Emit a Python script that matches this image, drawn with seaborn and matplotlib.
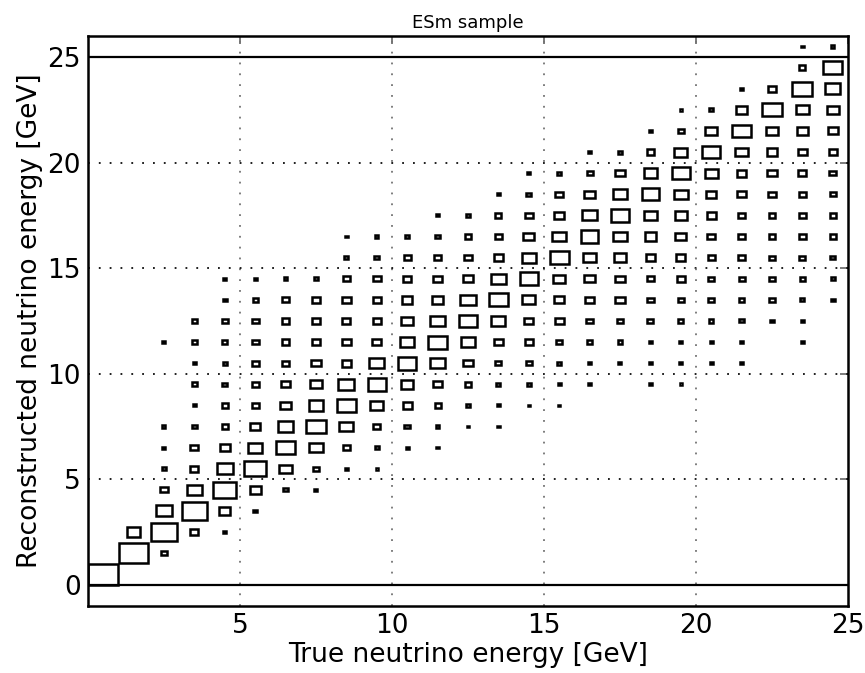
"""
ESm sample: true vs reconstructed neutrino energy, drawn as a ROOT-style box histogram.
"""
import matplotlib
matplotlib.use("Agg")
import matplotlib.pyplot as plt
import numpy as np
import pandas as pd
import seaborn as sns

# true energy bins (GeV), 1 GeV wide
true_bins = list(range(25))
# index of first reconstructed-energy bin that has content, per true bin
first_reco_bin = [0, 1, 1, 2, 2, 3, 4, 4, 5, 5, 6, 6, 7, 7, 8, 8, 9, 10, 9, 9, 10, 10, 12, 11, 13]
# relative box size (side of box / bin width) in consecutive reco bins
box_size = [
    [1.0],
    [0.93, 0.44],
    [0.19, 0.86, 0.52, 0.25, 0.13, 0.1, 0.1, 0, 0, 0, 0.1],
    [0.27, 0.82, 0.49, 0.27, 0.27, 0.16, 0.1, 0.17, 0.1, 0.15, 0.16],
    [0.1, 0.35, 0.75, 0.52, 0.33, 0.2, 0.2, 0.16, 0.14, 0.15, 0.18, 0.12, 0.1],
    [0.12, 0.37, 0.71, 0.48, 0.35, 0.24, 0.24, 0.22, 0.22, 0.22, 0.16, 0.1],
    [0.15, 0.4, 0.62, 0.52, 0.35, 0.27, 0.25, 0.25, 0.25, 0.25, 0.12],
    [0.1, 0.2, 0.43, 0.66, 0.49, 0.38, 0.3, 0.27, 0.25, 0.27, 0.16],
    [0.1, 0.22, 0.46, 0.62, 0.52, 0.32, 0.3, 0.27, 0.3, 0.25, 0.14, 0.08],
    [0.08, 0.14, 0.22, 0.44, 0.6, 0.49, 0.3, 0.27, 0.27, 0.25, 0.16, 0.1],
    [0.1, 0.18, 0.3, 0.4, 0.6, 0.46, 0.38, 0.35, 0.27, 0.22, 0.13],
    [0.08, 0.12, 0.2, 0.27, 0.47, 0.62, 0.47, 0.35, 0.3, 0.25, 0.16, 0.1],
    [0.08, 0.15, 0.22, 0.3, 0.47, 0.58, 0.5, 0.35, 0.25, 0.2, 0.13],
    [0.08, 0.1, 0.14, 0.2, 0.3, 0.46, 0.61, 0.49, 0.3, 0.25, 0.2, 0.1],
    [0.08, 0.13, 0.18, 0.25, 0.3, 0.43, 0.6, 0.47, 0.35, 0.27, 0.15, 0.1],
    [0.08, 0.1, 0.15, 0.2, 0.3, 0.33, 0.4, 0.62, 0.47, 0.35, 0.25, 0.13],
    [0.1, 0.1, 0.18, 0.22, 0.27, 0.35, 0.43, 0.58, 0.47, 0.35, 0.2, 0.1],
    [0.1, 0.16, 0.22, 0.3, 0.3, 0.4, 0.47, 0.6, 0.47, 0.3, 0.14],
    [0.08, 0.1, 0.1, 0.2, 0.22, 0.25, 0.3, 0.38, 0.43, 0.58, 0.45, 0.25, 0.1],
    [0.08, 0.1, 0.1, 0.18, 0.2, 0.27, 0.3, 0.35, 0.4, 0.45, 0.58, 0.43, 0.2, 0.08],
    [0.1, 0.1, 0.15, 0.2, 0.2, 0.22, 0.27, 0.3, 0.35, 0.42, 0.6, 0.38, 0.14],
    [0.1, 0.1, 0.14, 0.18, 0.2, 0.22, 0.22, 0.25, 0.27, 0.32, 0.42, 0.61, 0.35, 0.1],
    [0.13, 0.18, 0.2, 0.2, 0.2, 0.22, 0.25, 0.3, 0.35, 0.42, 0.63, 0.27],
    [0.08, 0.1, 0.14, 0.18, 0.2, 0.22, 0.22, 0.25, 0.27, 0.3, 0.38, 0.42, 0.66, 0.2, 0.08],
    [0.12, 0.14, 0.17, 0.2, 0.2, 0.2, 0.22, 0.27, 0.33, 0.4, 0.5, 0.62, 0.1],
]

x_ticks = [5, 10, 15, 20, 25]
y_ticks = [0, 5, 10, 15, 20, 25]


if __name__ == "__main__":

    rows = []
    for i, start, sizes in zip(true_bins, first_reco_bin, box_size):
        for k, s in enumerate(sizes):
            if s > 0:
                rows.append(dict(true_e=i + 0.5, reco_e=start + k + 0.5, size=s))
    df = pd.DataFrame(rows)

    sns.set_style("white")
    plt.rcParams["font.family"] = ["DejaVu Sans"]
    plt.rcParams["text.color"] = "black"
    plt.rcParams["axes.labelcolor"] = "black"
    plt.rcParams["xtick.color"] = "black"
    plt.rcParams["ytick.color"] = "black"

    fig = plt.figure(figsize=(8.65, 6.73), dpi=100)
    ax = fig.add_axes([0.1017, 0.0996, 0.8786, 0.8470])

    # grid behind the boxes
    for v in [5, 10, 15, 20]:
        ax.axvline(v, color="0.45", lw=1.3, ls=(0, (1, 5)), zorder=1)
        ax.axhline(v, color="0.05", lw=1.3, ls=(0, (1, 5)), zorder=1)
    ax.axhline(0, color="black", lw=1.6, zorder=2)
    ax.axhline(25, color="black", lw=1.6, zorder=2)

    ax.bar(
        df["true_e"],
        df["size"],
        width=df["size"],
        bottom=df["reco_e"] - df["size"] / 2,
        fill=False,
        edgecolor="black",
        linewidth=1.8,
        zorder=3,
    )

    ax.set_xlim(0, 25)
    ax.set_ylim(-1, 26)
    ax.set_xticks(x_ticks)
    ax.set_yticks(y_ticks)
    ax.tick_params(
        direction="in", top=True, right=True, length=6, width=1.2,
        color="0.4", labelsize=19, labelcolor="black",
    )
    ax.tick_params(axis="x", pad=5)
    ax.tick_params(axis="y", pad=5)
    for sp in ax.spines.values():
        sp.set_color("black")
        sp.set_linewidth(1.8)

    ax.set_xlabel("True neutrino energy [GeV]", fontsize=19, labelpad=2)
    ax.set_ylabel("Reconstructed neutrino energy [GeV]", fontsize=19, labelpad=3)
    ax.set_title("ESm sample", fontsize=13)

    fig.savefig("out.png", dpi=100)
